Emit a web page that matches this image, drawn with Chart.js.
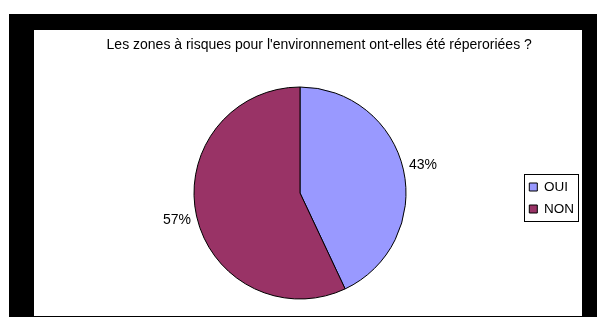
<!DOCTYPE html>
<html lang="fr">
<head>
<meta charset="UTF-8" />
<title>Zones à risques</title>
<style>
  html, body { margin: 0; padding: 0; background: #fff; }
  #frame {
    position: absolute;
    left: 9px;
    top: 14px;
    width: 588px;
    height: 303px;
    box-sizing: border-box;
    border-style: solid;
    border-color: #000;
    border-width: 16px 15px 1px 25px;
    background: #fff;
  }
  #frame canvas { display: block; }
</style>
</head>
<body>
<div id="frame"><canvas id="myChart" width="548" height="286"></canvas></div>

<script src="https://cdn.jsdelivr.net/npm/chart.js"></script>
<script>
const chartTitle = "Les zones à risques pour l'environnement ont-elles été réperoriées ?";
const categories = ["OUI", "NON"];
const values = [43, 57];

const fontFamily = '"Liberation Sans", Arial, sans-serif';

// percentage labels outside the slices, and the frame around the legend
const extras = {
  id: "extras",
  afterDatasetsDraw(chart) {
    const ctx = chart.ctx;
    const total = values.reduce((a, b) => a + b, 0);
    ctx.save();
    ctx.font = "14px " + fontFamily;
    ctx.fillStyle = "#000";
    ctx.textAlign = "center";
    ctx.textBaseline = "middle";
    chart.getDatasetMeta(0).data.forEach((arc, i) => {
      const mid = (arc.startAngle + arc.endAngle) / 2;
      const r = arc.outerRadius + 20;
      const txt = Math.round((values[i] / total) * 100) + "%";
      ctx.fillText(txt, arc.x + Math.cos(mid) * r, arc.y + Math.sin(mid) * r);
    });
    ctx.restore();
  },
  afterDraw(chart) {
    const hb = chart.legend.legendHitBoxes;
    if (!hb || !hb.length) return;
    const first = hb[0];
    const last = hb[hb.length - 1];
    const x = Math.round(first.left - 5.3) + 0.5;
    const y = Math.round(first.top - 6.25) + 0.5;
    const b = Math.round(last.top + last.height + 5.25) + 0.5;
    const ctx = chart.ctx;
    ctx.save();
    ctx.strokeStyle = "#000";
    ctx.lineWidth = 1;
    ctx.strokeRect(x, y, 54, b - y);
    ctx.restore();
  },
};

const ctx = document.getElementById("myChart").getContext("2d");
new Chart(ctx, {
  type: "pie",
  data: {
    labels: categories,
    datasets: [
      {
        data: values,
        backgroundColor: ["#9999FF", "#993366"],
        borderColor: "#000",
        borderWidth: 1,
        radius: 106,
      },
    ],
  },
  options: {
    responsive: false,
    animation: false,
    events: [],
    layout: { padding: { left: 22.4, right: 0, top: 0, bottom: 0.8 } },
    plugins: {
      title: {
        display: true,
        text: chartTitle,
        color: "#000",
        font: { family: fontFamily, size: 14, weight: "normal", lineHeight: 1.2 },
        padding: { top: 7, bottom: 17 },
      },
      // empty left box, only there to push the pie a bit to the right
      subtitle: {
        display: true,
        position: "left",
        fullSize: false,
        text: "",
        font: { size: 10, lineHeight: 1 },
        padding: { top: 12.8, bottom: 0 },
      },
      legend: {
        position: "right",
        fullSize: false,
        maxWidth: 61.2,
        title: { display: true, text: "", font: { size: 10, lineHeight: 1 }, padding: 0 },
        labels: {
          boxWidth: 8,
          boxHeight: 8,
          padding: 8.5,
          color: "#000",
          font: { family: fontFamily, size: 13.5 },
        },
      },
      tooltip: { enabled: false },
    },
  },
  plugins: [extras],
});
</script>
</body>
</html>
